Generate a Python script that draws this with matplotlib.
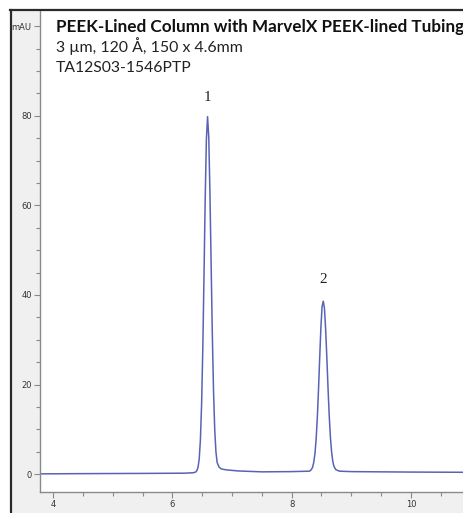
import matplotlib
matplotlib.use("Agg")
import matplotlib.pyplot as plt
from matplotlib.patches import Rectangle
from matplotlib.lines import Line2D
from matplotlib.ticker import MultipleLocator

# chromatogram trace (minutes, mAU)
time = [3.78, 4.5, 5.5, 6.2, 6.35, 6.39, 6.41, 6.43, 6.45, 6.47, 6.49, 6.51,
        6.53, 6.55, 6.57, 6.59, 6.61, 6.63, 6.65, 6.67, 6.69, 6.71, 6.73,
        6.75, 6.78, 6.82, 6.9, 7.1, 7.5, 8.0, 8.3, 8.33, 8.35, 8.37, 8.39,
        8.41, 8.43, 8.45, 8.47, 8.49, 8.51, 8.53, 8.55, 8.57, 8.59, 8.61,
        8.63, 8.65, 8.67, 8.69, 8.71, 8.74, 8.8, 9.0, 10.0, 10.9]
signal = [0.05, 0.1, 0.15, 0.2, 0.3, 0.45, 0.75, 1.5, 3.4, 7.7, 15.6, 28.0,
          44.2, 61.3, 74.7, 79.8, 75.2, 62.5, 46.5, 31.0, 18.5, 10.0, 5.0,
          2.6, 1.6, 1.15, 0.95, 0.7, 0.5, 0.55, 0.65, 1.0, 1.5, 2.6, 4.5,
          7.7, 12.5, 18.8, 25.9, 32.6, 37.4, 38.6, 37.0, 32.3, 26.0, 19.2,
          13.0, 8.2, 4.9, 2.8, 1.7, 1.0, 0.65, 0.55, 0.45, 0.4]

peak_labels = ["1", "2"]
peak_times = [6.59, 8.53]
peak_label_y = [83.2, 42.6]

y_ticks = [0, 20, 40, 60, 80, 100]
y_tick_labels = ["0", "20", "40", "60", "80", "mAU"]
x_ticks = [4, 6, 8, 10]

title = "PEEK-Lined Column with MarvelX PEEK-lined Tubing"
sub1 = "3 µm, 120 Å, 150 x 4.6mm"
sub2 = "TA12S03-1546PTP"

W, H = 464, 513
fig = plt.figure(figsize=(W / 100, H / 100), dpi=100)
fig.patch.set_facecolor("white")


def fx(px):
    return px / W


def fy(py):
    return 1 - py / H


# grey panel and dark frame
fig.add_artist(Rectangle((fx(11), 0), 1 - fx(11), fy(10), transform=fig.transFigure,
                         facecolor="#f0f0f0", edgecolor="none", zorder=0))
fig.add_artist(Line2D([fx(11), fx(11)], [0, fy(9.5)], transform=fig.transFigure,
                      color="#2a2a2a", lw=1.6))
fig.add_artist(Line2D([fx(10), 1], [fy(9.5), fy(9.5)], transform=fig.transFigure,
                      color="#2a2a2a", lw=1.6))

ax = fig.add_axes([fx(40), fy(492), 1 - fx(40), fy(10.5) - fy(492)])
ax.set_facecolor("white")
ax.plot(time, signal, color="#5863b6", lw=1.1)

for lab, t, yy in zip(peak_labels, peak_times, peak_label_y):
    ax.text(t, yy, lab, ha="center", va="baseline", fontsize=11,
            family="Liberation Serif", color="#222222")

ax.set_xlim(3.78, 10.89)
ax.set_ylim(-4.0, 103.5)
ax.set_xticks(x_ticks)
ax.set_xticklabels([str(v) for v in x_ticks])
ax.set_yticks(y_ticks)
ax.set_yticklabels(y_tick_labels)
ax.xaxis.set_minor_locator(MultipleLocator(0.5))
ax.yaxis.set_minor_locator(MultipleLocator(5))

for s in ["top", "right"]:
    ax.spines[s].set_visible(False)
for s in ["left", "bottom"]:
    ax.spines[s].set_color("#8a8a8a")
    ax.spines[s].set_linewidth(1.0)

ax.tick_params(which="both", direction="out", color="#8a8a8a", width=0.8,
               labelsize=6, labelcolor="#333333")
ax.tick_params(which="major", length=4, pad=2)
ax.tick_params(which="minor", length=3)

# header texts, sized to the widths seen in the reference
fig.canvas.draw()
renderer = fig.canvas.get_renderer()


def fit_text(x, y, s, width_px, **kw):
    t = fig.text(fx(x), fy(y), s, va="baseline", ha="left", **kw)
    w = t.get_window_extent(renderer).width
    t.set_fontsize(t.get_fontsize() * width_px / w)
    return t


fit_text(56, 32, title, 407, fontsize=11, fontweight="bold",
         family="Lato", color="#111111")
fit_text(56, 52, sub1, 187, fontsize=9, family="Lato", color="#222222")
fit_text(56, 71.5, sub2, 136, fontsize=9, family="Lato", color="#222222")

fig.savefig("out.png", dpi=100, facecolor=fig.get_facecolor())
